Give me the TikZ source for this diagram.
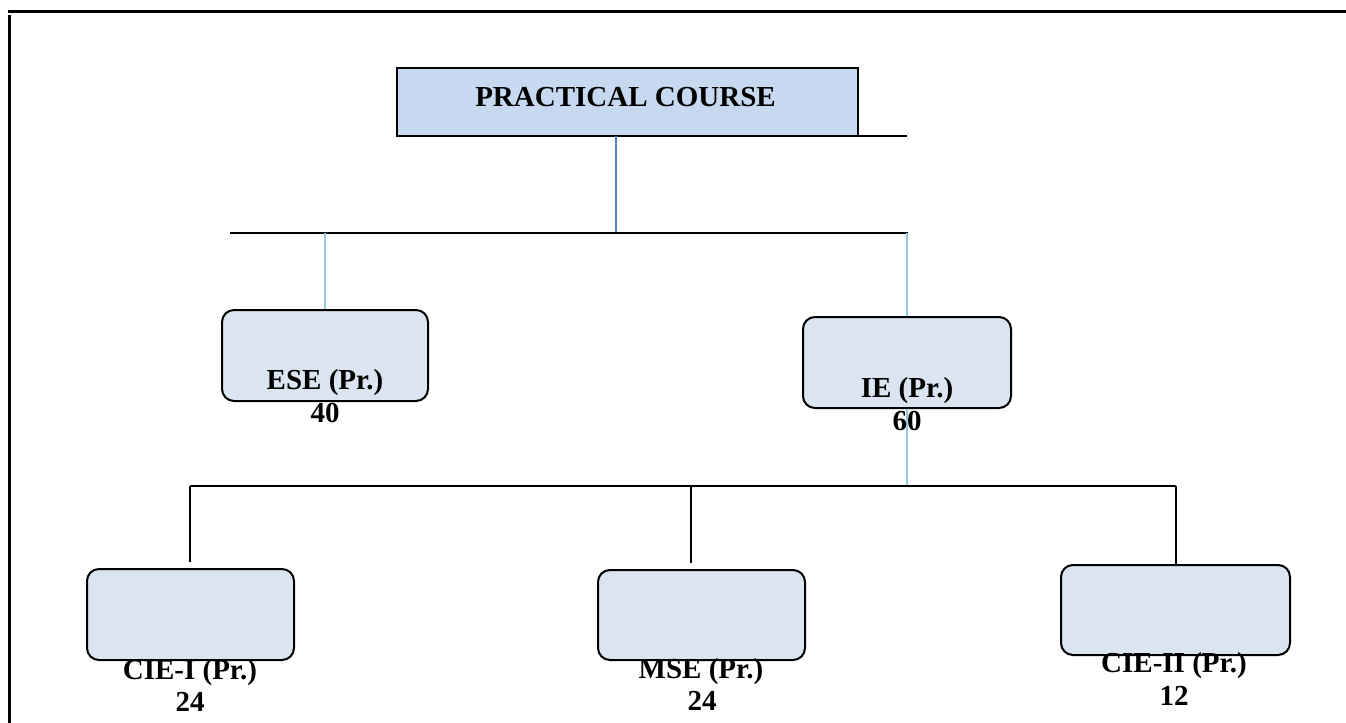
\documentclass[tikz,border=0pt]{standalone}
\usepackage{fontspec}
\setmainfont{Liberation Serif}
\definecolor{headfill}{HTML}{C6D9F1}
\definecolor{boxfill}{HTML}{DBE5F1}
\definecolor{darkstem}{HTML}{4F81BD}
\definecolor{lightstem}{HTML}{92CDDC}
\tikzset{
  headbox/.style={draw,line width=1pt,fill=headfill,inner sep=0pt,outer sep=0pt,minimum width=230.5pt,minimum height=34pt},
  markbox/.style={draw,line width=1pt,fill=boxfill,rounded corners=6pt,inner sep=0pt,minimum height=45.5pt},
  marktext/.style={anchor=base,inner sep=0pt,font=\fontsize{14.5}{17}\selectfont\bfseries},
  frameline/.style={line width=1.5pt},
  barline/.style={line width=1pt},
  darkline/.style={darkstem,line width=1.4pt},
  lightline/.style={lightstem,line width=1.4pt}
}
\begin{document}
\begin{tikzpicture}[x=0.5pt,y=-0.5pt]
    \useasboundingbox (0,0) rectangle (1346,723);
    \draw [frameline] (8,11)--(1346,11);
    \draw [frameline] (9,15)--(9,723);
    % top of the tree
    \node [headbox] (course) at (627.5,102) {};
    \node [marktext] (coursetext) at (625.5,106) {PRACTICAL COURSE};
    \coordinate (courseend) at (907,136);
    \coordinate (topleft) at (230,233);
    \coordinate (topmid) at (616,233);
    \coordinate (topright) at (908,233);
    \draw [barline] (course.south east)--(course.south east -| courseend);
    \draw [darkline] (course.south -| topmid)--(topmid);
    \draw [barline] (topleft)--(topright);
    % second row
    \node [markbox,minimum width=103pt] (ese) at (325,355.5) {};
    \node [markbox,minimum width=104pt] (ie) at (907,362.5) {};
    \node [marktext] (esetext) at (325,389) {ESE (Pr.)};
    \node [marktext] (esemark) at (325,422) {40};
    \node [marktext] (ietext) at (907,397) {IE (Pr.)};
    \draw [lightline] (ese.north)--(ese.north |- topleft);
    \draw [lightline] (ie.north)--(ie.north |- topright);
    % third row
    \coordinate (lowleft) at (190,486);
    \coordinate (lowmid) at (691,486);
    \coordinate (lowright) at (1176,486);
    \draw [lightline] (ie.south)--(ie.south |- lowleft);
    \node [marktext] (iemark) at (907,430) {60};
    \draw [line width=0.8pt] (lowleft)--(lowright);
    \node [markbox,minimum width=103.5pt] (ciei) at (190.5,614.5) {};
    \node [markbox,minimum width=103.5pt,minimum height=45pt] (mse) at (701.5,615) {};
    \node [markbox,minimum width=114.5pt,minimum height=45pt] (cieii) at (1175.5,610) {};
    \draw [barline,shorten >=3pt] (lowleft)--(lowleft |- ciei.north);
    \draw [barline,shorten >=3pt] (lowmid)--(lowmid |- mse.north);
    \draw [barline] (lowright)--(lowright |- cieii.north);
    \node [marktext] (cieitext) at (190,679) {CIE-I (Pr.)};
    \node [marktext] (cieimark) at (190,711) {24};
    \node [marktext] (msetext) at (701,678) {MSE (Pr.)};
    \node [marktext] (msemark) at (702,710) {24};
    \node [marktext] (cieiitext) at (1174,672) {CIE-II (Pr.)};
    \node [marktext] (cieiimark) at (1174,705) {12};
\end{tikzpicture}
\end{document}
